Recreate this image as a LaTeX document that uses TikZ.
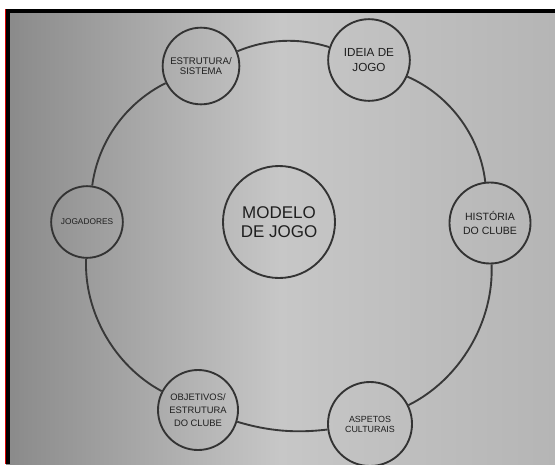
\documentclass[tikz,border=0pt]{standalone}
\usepackage{fontspec}
\setmainfont{Liberation Sans}
\usetikzlibrary{positioning}
\tikzset{
    bubble/.style={shape=circle, draw=black!80, line width=1.6pt, text=black!88, align=center, inner sep=0pt},
    ringline/.style={draw=black!78, line width=1.6pt, looseness=0.9}
}
\begin{document}
\begin{tikzpicture}[x=0.03cm, y=0.03cm]
    \useasboundingbox (0,0) rectangle (555,-464);
    \begin{scope}
        \fill[white] (0,0) rectangle (555,-464);
        \shade[left color=black!46, right color=black!29, middle color=black!22] (6,-9) rectangle (555,-464);
        \fill[black] (6,-9) rectangle (555,-13);
        \fill[black] (6,-9) rectangle (10,-464);
        \fill[red!85!black] (5,-9) rectangle (6.3,-464);
    \end{scope}
    \node[bubble, minimum size=3.36cm, font=\fontsize{14.5}{15.9}\selectfont] (modelo) at (279,-222) {MODELO\\DE JOGO};
    \node[bubble, minimum size=2.3cm, font=\fontsize{8.2}{8.6}\selectfont] (estrutura) at (201,-66) {ESTRUTURA/\\SISTEMA};
    \node[bubble, minimum size=2.45cm, font=\fontsize{10}{12.6}\selectfont] (ideia) at (369,-60) {IDEIA DE\\JOGO};
    \node[bubble, minimum size=2.15cm, font=\fontsize{7.1}{8}\selectfont] (jogadores) at (87,-222) {JOGADORES};
    \node[bubble, minimum size=2.43cm, font=\fontsize{9}{11.8}\selectfont] (historia) at (490,-223) {HISTÓRIA\\DO CLUBE};
    \node[bubble, minimum size=2.4cm, font=\fontsize{8}{11.2}\selectfont] (objetivos) at (198,-410) {OBJETIVOS/\\ESTRUTURA\\DO CLUBE};
    \node[bubble, minimum size=2.52cm, font=\fontsize{7.6}{8.6}\selectfont] (aspetos) at (370,-424) {ASPETOS\\CULTURAIS};
    \draw[ringline] (ideia) to[bend right=20] (estrutura);
    \draw[ringline] (estrutura) to[bend right=28] (jogadores);
    \draw[ringline] (jogadores) to[bend right=32] (objetivos);
    \draw[ringline] (objetivos) to[bend right=12] (aspetos);
    \draw[ringline] (aspetos) to[bend right=33] (historia);
    \draw[ringline] (historia) to[bend right=30] (ideia);
\end{tikzpicture}
\end{document}
